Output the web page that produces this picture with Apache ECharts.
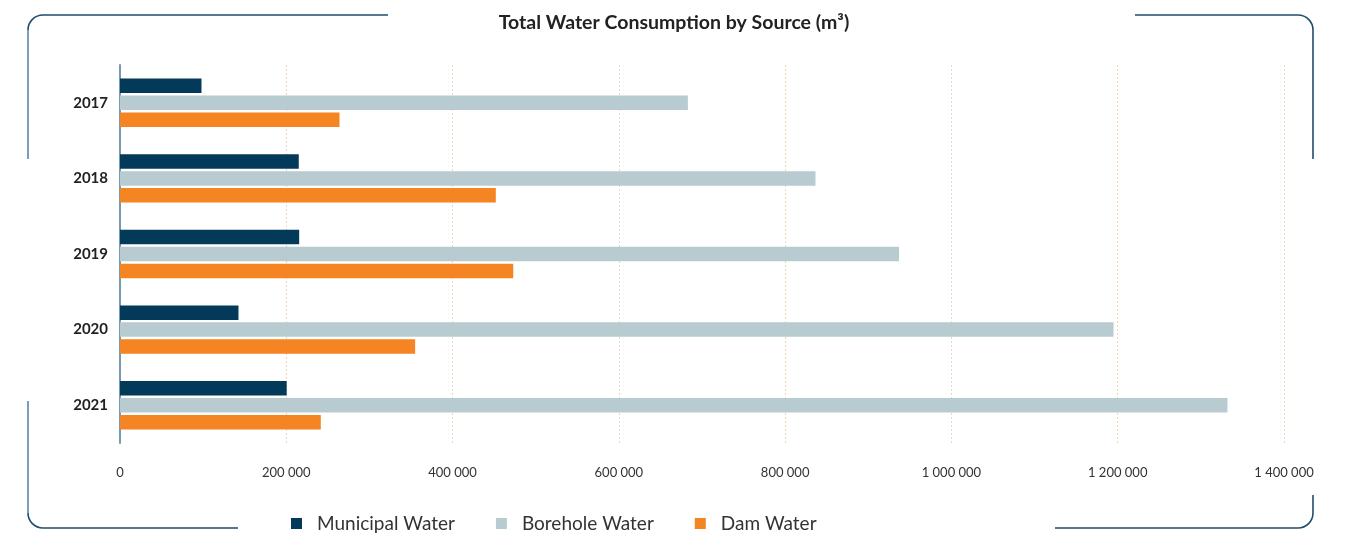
<!DOCTYPE html>
<html>
<head>
<meta charset="utf-8">
<title>Total Water Consumption by Source</title>
<script src="https://cdn.jsdelivr.net/npm/echarts@6/dist/echarts.min.js"></script>
<style>
  html, body { margin: 0; padding: 0; background: #fff; }
  #chart { width: 1348px; height: 534px; }
</style>
</head>
<body>
<div id="chart"></div>
<script>
// chart data
const years = ['2017', '2018', '2019', '2020', '2021']
const municipalWater = [98000, 215000, 215500, 142500, 200500]
const boreholeWater = [683000, 836500, 937000, 1195000, 1332000]
const damWater = [264000, 452000, 473000, 355000, 241500]

const seriesNames = ['Municipal Water', 'Borehole Water', 'Dam Water']
const seriesColors = ['#033a5a', '#b8cbd1', '#f58423']

// 1 200 000 style numbers
function spaced(v) {
  return String(v).replace(/\B(?=(\d{3})+(?!\d))/g, ' ')
}

const chart = echarts.init(document.getElementById('chart'))

const frameDark = '#1f4d6b'
const frameLight = '#5f88a1'
const frameW = 1.6

// pieces of the broken rounded frame
function seg(points, color) {
  return { type: 'polyline', silent: true, shape: { points: points }, style: { fill: null, stroke: color, lineWidth: frameW } }
}
function corner(cx, cy, a0, a1) {
  return { type: 'arc', silent: true, shape: { cx: cx, cy: cy, r: 15, startAngle: a0, endAngle: a1 }, style: { fill: null, stroke: frameDark, lineWidth: frameW } }
}
const PI = Math.PI

chart.setOption({
  animation: false,
  textStyle: { fontFamily: 'Lato' },
  title: {
    text: 'Total Water Consumption by Source (m³)',
    left: 'center',
    top: 8,
    textStyle: { fontSize: 19.5, fontWeight: 'bold', color: '#222', fontFamily: 'Lato' }
  },
  legend: {
    data: seriesNames,
    left: 286,
    top: 509,
    icon: 'rect',
    itemWidth: 11,
    itemHeight: 11,
    itemGap: 41,
    textStyle: { fontSize: 19, color: '#333', padding: [0, 0, 0, 10] }
  },
  grid: {
    left: 120,
    right: 64,
    top: 65,
    bottom: 91,
    containLabel: false
  },
  xAxis: {
    type: 'value',
    min: 0,
    max: 1400000,
    interval: 200000,
    axisLine: { show: false },
    axisTick: { show: false },
    axisLabel: {
      fontSize: 13,
      color: '#333',
      margin: 23,
      formatter: spaced
    },
    splitLine: {
      show: true,
      lineStyle: { color: '#efd6bb', type: [2, 2], width: 1 }
    }
  },
  yAxis: {
    type: 'category',
    data: years,
    inverse: true,
    axisLine: { show: true, lineStyle: { color: '#7699ad', width: 2 } },
    axisTick: { show: false },
    axisLabel: { fontSize: 15, fontWeight: 'bold', color: '#222', margin: 12 }
  },
  series: [
    {
      name: seriesNames[0],
      type: 'bar',
      data: municipalWater,
      itemStyle: { color: seriesColors[0] },
      barWidth: 14.5,
      barGap: '17%'
    },
    {
      name: seriesNames[1],
      type: 'bar',
      data: boreholeWater,
      itemStyle: { color: seriesColors[1] },
      barWidth: 14.5,
      barGap: '17%'
    },
    {
      name: seriesNames[2],
      type: 'bar',
      data: damWater,
      itemStyle: { color: seriesColors[2] },
      barWidth: 14.5,
      barGap: '17%'
    }
  ],
  graphic: [
    // top left
    seg([[388, 15], [43, 15]], frameDark),
    corner(43, 30, PI, 1.5 * PI),
    seg([[28, 30], [28, 159]], frameLight),
    // top right
    seg([[1135, 15], [1298, 15]], frameDark),
    corner(1298, 30, 1.5 * PI, 2 * PI),
    seg([[1313, 30], [1313, 159]], frameDark),
    // bottom left
    seg([[28, 401], [28, 513]], frameLight),
    corner(43, 513, 0.5 * PI, PI),
    seg([[43, 528], [238, 528]], frameDark),
    // bottom right
    seg([[1313, 495], [1313, 513]], frameDark),
    corner(1298, 513, 0, 0.5 * PI),
    seg([[1298, 528], [1055, 528]], frameDark)
  ]
})
</script>
</body>
</html>
